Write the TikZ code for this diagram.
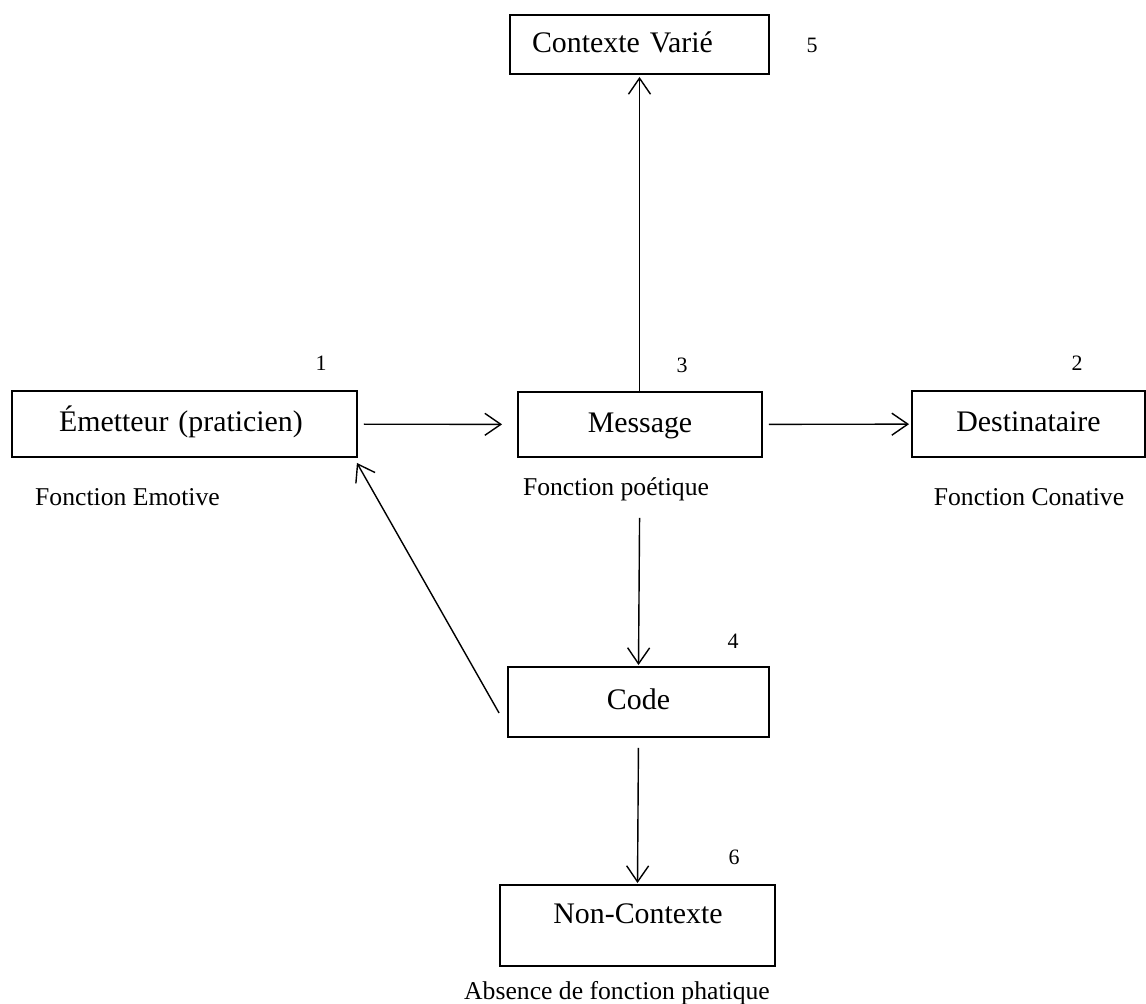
\documentclass[tikz,border=0pt]{standalone}
\usepackage{fontspec}
\setmainfont{Liberation Serif}
\usetikzlibrary{arrows.meta}

\begin{document}
\begin{tikzpicture}[x=0.02cm, y=-0.02cm, >={Straight Barb[length=3.2mm,width=4.4mm]},
	box/.style={draw, line width=1.1pt, font=\fontsize{17}{19}\selectfont, inner sep=0pt, text height=12pt, text depth=3pt},
	num/.style={font=\fontsize{12.5}{14}\selectfont},
	fn/.style={font=\fontsize{14.6}{16}\selectfont, anchor=base},
	arr/.style={->, line width=0.8pt}]
	\useasboundingbox (0,0) rectangle (1146,1004);
	% boites
	\node[box, minimum width=6.9cm, minimum height=1.32cm, text width=5.02cm, inner xsep=0.94cm, align=left] (E) at (184.5,424) {Émetteur (praticien)};
	\node[box, minimum width=4.88cm, minimum height=1.3cm] (M) at (640,424.5) {Message};
	\node[box, minimum width=4.66cm, minimum height=1.32cm] (D) at (1028.5,424) {Destinataire};
	\node[box, minimum width=5.18cm, minimum height=1.18cm, text width=4.3cm, inner xsep=0.44cm, align=left] (V) at (639.5,44.5) {Contexte Varié};
	\node[box, minimum width=5.22cm, minimum height=1.4cm] (C) at (638.5,702) {Code};
	\node[box, minimum width=5.5cm, minimum height=1.62cm] (N) at (637.5,925.5) {};
	\node[font=\fontsize{17}{19}\selectfont, anchor=base] (Ntxt) at (638,923) {Non-Contexte};
	% numeros
	\node[num] (n1) at (321,363) {1};
	\node[num] (n2) at (1077,363) {2};
	\node[num] (n3) at (682,365) {3};
	\node[num] (n4) at (733,641) {4};
	\node[num] (n5) at (812,45) {5};
	\node[num] (n6) at (734,857) {6};
	% fonctions
	\node[fn] (fE) at (127.5,505) {Fonction Emotive};
	\node[fn] (fM) at (616,495) {Fonction poétique};
	\node[fn] (fD) at (1029,505) {Fonction Conative};
	\node[fn] (fN) at (617,999) {Absence de fonction phatique};
	% fleches
	\draw[arr, shorten <=0.12cm, shorten >=0.3cm] (E) -- (M);
	\draw[arr, shorten <=0.12cm, shorten >=0.04cm] (M) -- (D);
	\draw[arr, shorten >=0.04cm] (M.north -| V.south) -- (V.south);
	\draw[arr, shorten <=1.2cm, shorten >=0.02cm] (M.south) -- (C.north);
	\draw[arr, shorten <=0.2cm, shorten >=0.02cm] (C.south) -- (N.north);
	\draw[arr] ([xshift=-0.16cm,yshift=-0.22cm]C.west) -- ([xshift=-0.02cm,yshift=-0.1cm]E.south east);
\end{tikzpicture}
\end{document}
